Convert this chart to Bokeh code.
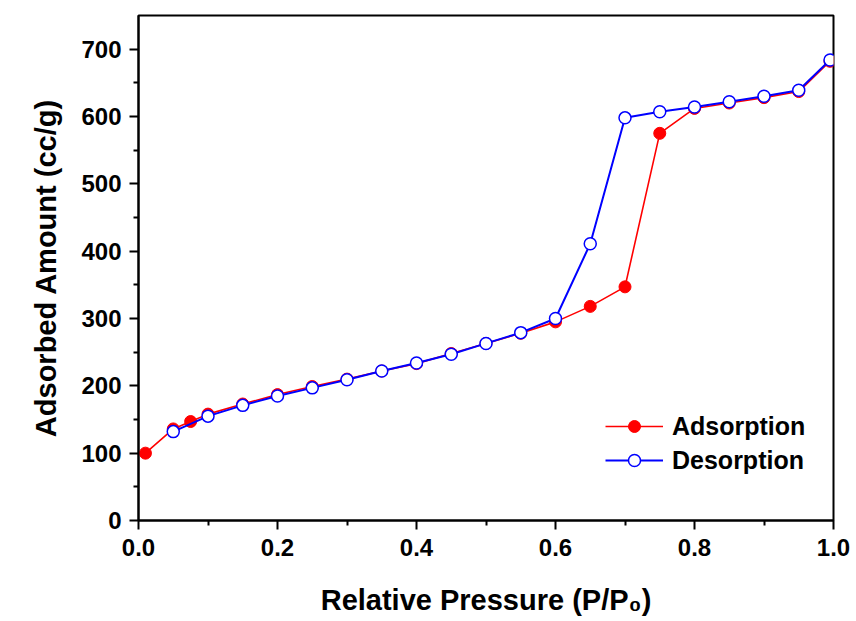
from bokeh.plotting import figure
from bokeh.models import FixedTicker, Range1d, Legend, LegendItem, CustomJSTickFormatter
from bokeh.embed import file_html
from bokeh.resources import INLINE

# Adsorption branch (filled red)
ads_p = [0.01, 0.05, 0.075, 0.10, 0.15, 0.20, 0.25, 0.30, 0.35, 0.40, 0.45,
         0.50, 0.55, 0.60, 0.65, 0.70, 0.75, 0.80, 0.85, 0.90, 0.95, 0.995]
ads_v = [100, 136, 147, 158, 173, 187, 199, 210, 222, 233, 248,
         263, 278, 295, 318, 347, 575, 612, 620, 628, 637, 682]

# Desorption branch (open blue)
des_p = [0.995, 0.95, 0.90, 0.85, 0.80, 0.75, 0.70, 0.65, 0.60, 0.55, 0.50,
         0.45, 0.40, 0.35, 0.30, 0.25, 0.20, 0.15, 0.10, 0.05]
des_v = [684, 639, 630, 622, 614, 607, 598, 411, 300, 279, 263,
         247, 234, 222, 209, 197, 185, 171, 155, 132]

x_ticks = [0.0, 0.2, 0.4, 0.6, 0.8, 1.0]
x_minor = [0.1, 0.3, 0.5, 0.7, 0.9]
y_ticks = [0, 100, 200, 300, 400, 500, 600, 700]
y_minor = [50, 150, 250, 350, 450, 550, 650]

FONT = "Liberation Sans"

p = figure(width=850, height=618, output_backend="svg", toolbar_location=None,
           x_range=Range1d(0, 1.0), y_range=Range1d(0, 750),
           min_border_left=138, min_border_right=17, min_border_top=15,
           min_border_bottom=97,
           x_axis_label="Relative Pressure (P/P\u2080)",
           y_axis_label="Adsorbed Amount (cc/g)")

p.xgrid.visible = False
p.ygrid.visible = False
p.outline_line_color = "black"
p.outline_line_width = 2
p.background_fill_color = "white"
p.border_fill_color = "white"

p.xaxis.ticker = FixedTicker(ticks=x_ticks, minor_ticks=x_minor)
p.yaxis.ticker = FixedTicker(ticks=y_ticks, minor_ticks=y_minor)
p.xaxis.formatter = CustomJSTickFormatter(code="return tick.toFixed(1);")

for ax in (p.xaxis, p.yaxis):
    ax.axis_line_width = 2
    ax.axis_line_color = "black"
    ax.major_tick_line_width = 2
    ax.minor_tick_line_width = 2
    ax.major_tick_in = 0
    ax.major_tick_out = 9
    ax.minor_tick_in = 0
    ax.minor_tick_out = 5
    ax.major_label_text_font = FONT
    ax.major_label_text_font_style = "bold"
    ax.major_label_text_font_size = "24px"
    ax.major_label_text_color = "black"
    ax.axis_label_text_font = FONT
    ax.axis_label_text_font_style = "bold"
    ax.axis_label_text_color = "black"

p.xaxis.major_label_standoff = 9
p.yaxis.major_label_standoff = 8
p.xaxis.axis_label_text_font_size = "29px"
p.yaxis.axis_label_text_font_size = "29px"
p.xaxis.axis_label_standoff = 25
p.yaxis.axis_label_standoff = 16

r1 = p.line(ads_p, ads_v, line_color="red", line_width=1.6)
s1 = p.scatter(ads_p, ads_v, size=12, fill_color="red", line_color="red")
r2 = p.line(des_p, des_v, line_color="blue", line_width=2)
s2 = p.scatter(des_p, des_v, size=12, fill_color="white", line_color="blue",
               line_width=1.5)

legend = Legend(items=[LegendItem(label="Adsorption", renderers=[r1, s1]),
                       LegendItem(label="Desorption", renderers=[r2, s2])],
                location=(467, 45))
legend.background_fill_alpha = 0
legend.border_line_alpha = 0
legend.padding = 0
legend.margin = 0
legend.spacing = 4
legend.glyph_width = 58
legend.glyph_height = 30
legend.label_height = 30
legend.label_standoff = 9
legend.label_text_font = FONT
legend.label_text_font_style = "bold"
legend.label_text_font_size = "25px"
legend.label_text_color = "black"
p.add_layout(legend)

open("out.html", "w").write(file_html(p, INLINE))
